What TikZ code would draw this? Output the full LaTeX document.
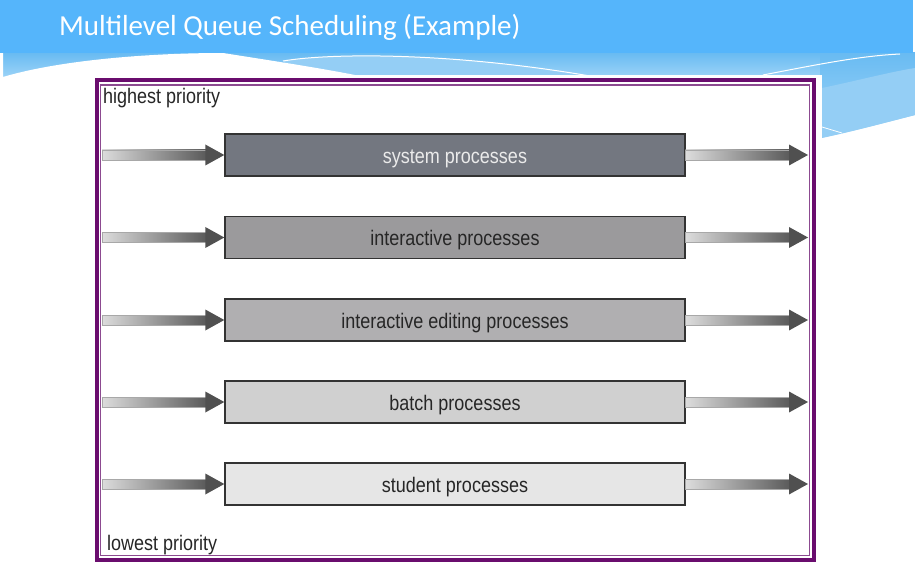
\documentclass[tikz,border=0pt]{standalone}
\usepackage{fontspec}
\setmainfont{Liberation Sans}
\newfontfamily\titlefont{Carlito}
\usetikzlibrary{calc}
\definecolor{barblue}{HTML}{55B5FB}
\definecolor{midblue}{HTML}{69BBF2}
\definecolor{lightblue}{HTML}{94CEF5}
\definecolor{paleblue}{HTML}{A2D6F8}
\definecolor{framepurple}{HTML}{6A0D6E}
\definecolor{innerpurple}{HTML}{8C4A90}
\definecolor{cA}{HTML}{737780}
\definecolor{cB}{HTML}{9B9A9C}
\definecolor{cC}{HTML}{B0AFB1}
\definecolor{cD}{HTML}{D0D0D0}
\definecolor{cE}{HTML}{E6E6E6}
\definecolor{shaftL}{HTML}{DCDCDC}
\definecolor{shaftR}{HTML}{5A5A5A}
\definecolor{shaftE}{HTML}{A8A8A8}
\definecolor{headc}{HTML}{505050}
\newcommand{\vst}[1]{\scalebox{1}[1.17]{#1}}
\newcommand{\qarrow}[2]{%
  \shade[left color=shaftL, right color=shaftR, draw=shaftE, line width=0.6]
    ($(#1)+(0,-5)$) rectangle ($(#2)+(-18,5)$);
  \fill[headc] (#2) -- ($(#2)+(-19,10.5)$) -- ($(#2)+(-19,-10.5)$) -- cycle;}
\begin{document}
\begin{tikzpicture}[x=1pt,y=-1pt,
  qbox/.style={draw=black!80, line width=1.4, minimum width=460, minimum height=42,
    inner sep=0, text height=17pt, text depth=0pt,
    font=\fontsize{18}{22}\selectfont, text=black!85},
  plabel/.style={anchor=base west, inner sep=0, font=\fontsize{18}{22}\selectfont, text=black!85}]
\useasboundingbox (0,0) rectangle (915,569);
\fill[white] (0,0) rectangle (915,569);
% decorative swooshes
\shade[top color=midblue, bottom color=paleblue] (0,53) rectangle (915,80);
\shade[top color=midblue, bottom color=paleblue] (820,53) -- (915,53) -- (915,115)
  .. controls (880,124) and (850,132) .. (820,138) -- cycle;
\fill[lightblue] (283,61) .. controls (330,53) and (450,52) .. (590,76) -- (300,76) -- cycle;
\fill[lightblue] (822,88) .. controls (860,80) and (890,72) .. (915,68) -- (915,115)
  .. controls (880,124) and (850,132) .. (822,138) -- cycle;
\draw[white, line width=1] (283,61) .. controls (330,53) and (450,52) .. (590,76);
\draw[white, line width=1] (763,75) .. controls (820,64) and (860,56) .. (900,54);
\draw[white, line width=0.8] (822,127) -- (842,133);
\fill[white] (0,53) -- (3,53) -- (3,77) .. controls (60,60) and (150,53) .. (223,53)
  .. controls (280,62) and (320,68) .. (360,76) -- (360,81) -- (0,81) -- cycle;
% title bar
\fill[barblue] (0,0) rectangle (913,53);
\node[anchor=west, inner sep=0, text=white, font=\titlefont\fontsize{29}{33}\selectfont]
  (title) at (59,27) {Multilevel Queue Scheduling (Example)};
% white panel and frame
\fill[white] (90,75) rectangle (822,569);
\draw[framepurple, line width=4] (96.5,80) rectangle (814,559.5);
\draw[innerpurple, line width=1.2] (100.7,85) rectangle (809.3,555.5);
\node[plabel] (hi) at (103,104) {\vst{highest priority}};
\node[plabel] (lo) at (107,550) {\vst{lowest priority}};
% queues
\node[qbox, fill=cA, text=white!92!black] (q1) at (455,155) {\vst{system processes}};
\node[qbox, fill=cB] (q2) at (455,237.5) {\vst{interactive processes}};
\node[qbox, fill=cC] (q3) at (455,320) {\vst{interactive editing processes}};
\node[qbox, fill=cD] (q4) at (455,402) {\vst{batch processes}};
\node[qbox, fill=cE] (q5) at (455,484) {\vst{student processes}};
\foreach \i/\y in {1/155,2/237.5,3/320,4/402,5/484}{
  \coordinate (in\i) at (102,\y);
  \coordinate (out\i) at (808,\y);
  \qarrow{in\i}{q\i.west}
  \qarrow{q\i.east}{out\i}
}
\end{tikzpicture}
\end{document}
